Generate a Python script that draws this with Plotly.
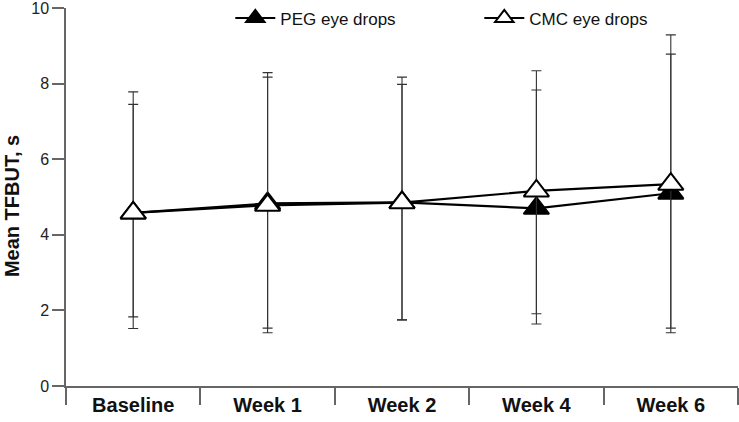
import plotly.graph_objects as go

categories = ["Baseline", "Week 1", "Week 2", "Week 4", "Week 6"]
peg_mean = [4.58, 4.83, 4.86, 4.70, 5.10]
peg_upper = [7.78, 8.29, 8.17, 7.83, 8.78]
peg_lower = [1.52, 1.41, 1.75, 1.64, 1.41]
cmc_mean = [4.58, 4.78, 4.85, 5.16, 5.34]
cmc_upper = [7.45, 8.17, 7.98, 8.34, 9.29]
cmc_lower = [1.83, 1.53, 1.75, 1.91, 1.53]
y_ticks = [0, 2, 4, 6, 8, 10]

def err(mean, upper, lower):
    plus = [u - m for u, m in zip(upper, mean)]
    minus = [m - l for l, m in zip(lower, mean)]
    return dict(type="data", symmetric=False, array=plus, arrayminus=minus,
                color="#333333", thickness=1.1, width=5)

fig = go.Figure()
fig.add_trace(go.Scatter(
    x=categories, y=peg_mean, name="PEG eye drops", mode="lines+markers",
    line=dict(color="black", width=2.2),
    marker=dict(symbol="triangle-up", size=22, color="black",
                line=dict(color="black", width=2)),
    error_y=err(peg_mean, peg_upper, peg_lower),
))
fig.add_trace(go.Scatter(
    x=categories, y=cmc_mean, name="CMC eye drops", mode="lines+markers",
    line=dict(color="black", width=2.2),
    marker=dict(symbol="triangle-up", size=22, color="white",
                line=dict(color="black", width=2)),
    error_y=err(cmc_mean, cmc_upper, cmc_lower),
))

font = "Liberation Sans, Arial, sans-serif"
fig.update_layout(
    width=739, height=422,
    margin=dict(l=66, r=1, t=8, b=36, autoexpand=False),
    plot_bgcolor="white", paper_bgcolor="white",
    font=dict(family=font, size=15, color="#111111"),
    showlegend=True,
    legend=dict(orientation="h", x=0.2445, y=1.02, xanchor="left", yanchor="top",
                font=dict(size=17, color="#111111"), bgcolor="rgba(0,0,0,0)",
                itemwidth=40,
                entrywidth=194, entrywidthmode="pixels", itemsizing="trace"),
    xaxis=dict(type="category", range=[-0.5, 4.5], tickson="boundaries",
               automargin=False,
               ticks="outside", ticklen=17, tickwidth=1.5, tickcolor="#666666",
               showline=True, linecolor="#666666", linewidth=1.5,
               showgrid=False, zeroline=False,
               tickfont=dict(size=20, color="#111111", family=font, weight="bold")),
    yaxis=dict(range=[0, 10], tickvals=y_ticks, ticks="outside", ticklen=12,
               automargin=False, ticklabeloverflow="allow",
               tickwidth=1.5, tickcolor="#666666",
               showline=True, linecolor="#666666", linewidth=1.5,
               showgrid=False, zeroline=False,
               tickfont=dict(size=16, color="#222222")),
    annotations=[dict(text="<b>Mean TFBUT, s</b>", xref="paper", yref="paper",
                      x=-54 / 672, y=0.476, xanchor="center", yanchor="middle",
                      textangle=-90, showarrow=False,
                      font=dict(size=20, color="#111111", family=font))],
)

fig.write_html("out.html", config={"displayModeBar": False})

with open("out.html", "r", encoding="utf-8") as f:
    html = f.read()
html = html.replace("<head>", "<head><style>html,body{margin:0;padding:0;overflow:hidden;}</style>", 1)
with open("out.html", "w", encoding="utf-8") as f:
    f.write(html)
